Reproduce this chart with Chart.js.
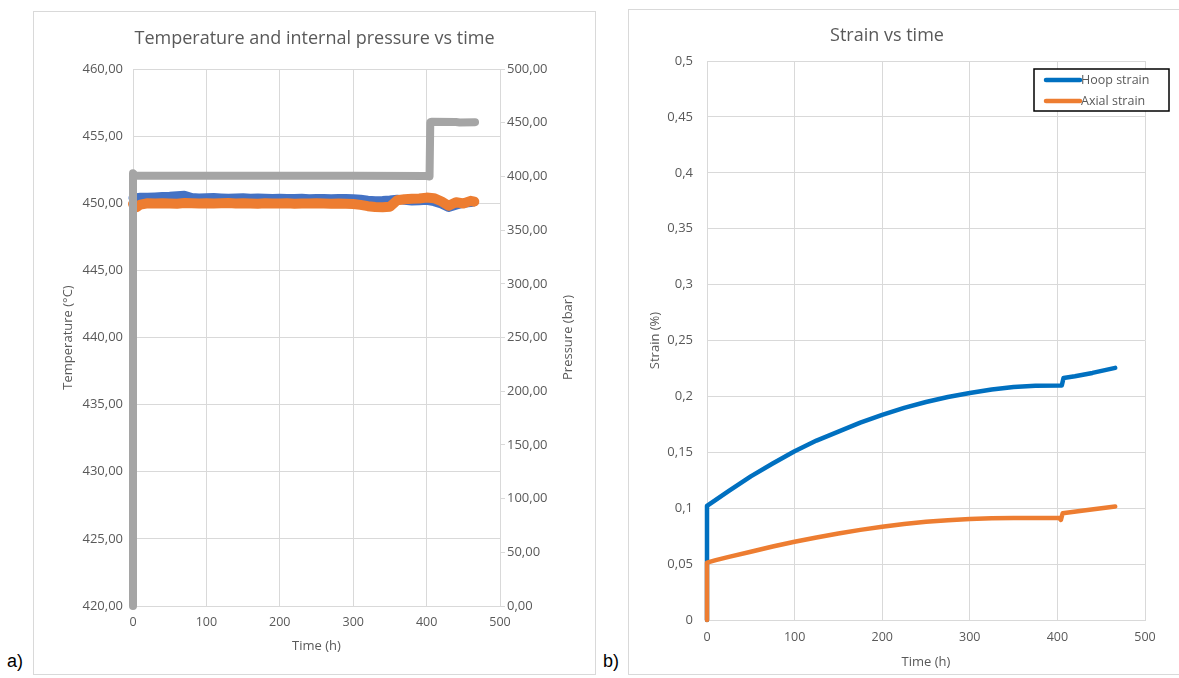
<!DOCTYPE html>
<html>
<head>
<meta charset="utf-8">
<script src="https://cdn.jsdelivr.net/npm/chart.js@4.4.1/dist/chart.umd.min.js"></script>
<style>
body { margin: 0; width: 1179px; height: 678px; overflow: hidden; background: #fff; position: relative; }
.panel { position: absolute; border: 1px solid #d9d9d9; }
#panelA { left: 33px; top: 11px; width: 561px; height: 662px; }
#panelB { left: 628px; top: 9px; width: 580px; height: 664px; }
.tag { position: absolute; font-family: "Liberation Sans", Arial, sans-serif; font-size: 18px; color: #000; }
</style>
</head>
<body>
<div class="panel" id="panelA"><canvas id="chartA" width="561" height="662"></canvas></div>
<div class="panel" id="panelB"><canvas id="chartB" width="580" height="664"></canvas></div>
<div class="tag" style="left:7px; top:651px;">a)</div>
<div class="tag" style="left:603px; top:651px;">b)</div>
<script>
// chart a) temperature and pressure
const tempTime = [0, 5, 10, 20, 30, 40, 50, 60, 70, 80, 90, 100, 110, 120, 130, 140, 150, 160, 170, 180, 190, 200, 210, 220, 230, 240, 250, 260, 270, 280, 290, 300, 310, 320, 330, 340, 350, 360, 370, 380, 390, 400, 410, 420, 430, 440, 450, 460, 465];
const temp1 = [450.40, 450.42, 450.45, 450.45, 450.47, 450.50, 450.52, 450.56, 450.60, 450.42, 450.40, 450.41, 450.42, 450.40, 450.38, 450.40, 450.41, 450.38, 450.40, 450.38, 450.36, 450.38, 450.36, 450.35, 450.37, 450.34, 450.36, 450.35, 450.34, 450.36, 450.35, 450.34, 450.30, 450.22, 450.18, 450.20, 450.24, 450.30, 450.22, 450.16, 450.18, 450.22, 450.12, 449.95, 449.68, 449.85, 450.00, 450.05, 450.12];
const temp2 = [449.95, 449.72, 449.90, 450.00, 449.98, 450.00, 449.98, 449.97, 450.02, 450.00, 449.98, 450.00, 449.98, 450.00, 450.01, 449.98, 450.00, 449.99, 449.97, 450.00, 449.98, 449.99, 450.00, 449.97, 449.99, 449.98, 450.00, 449.98, 449.97, 449.99, 449.97, 449.95, 449.88, 449.78, 449.72, 449.70, 449.74, 450.22, 450.30, 450.33, 450.36, 450.42, 450.38, 450.15, 449.82, 450.08, 449.98, 450.18, 450.12];
const pressTime = [0, 0, 3, 100, 200, 300, 400, 404, 405, 407, 440, 445, 466];
const pressure = [0, 403, 400.8, 400.6, 400.6, 400.5, 400.3, 400, 450.4, 451, 450.6, 450.2, 450.5];

// chart b) strain
const hoopTime = [0, 0, 10, 25, 50, 75, 100, 125, 150, 175, 200, 225, 250, 275, 300, 325, 350, 375, 404, 405, 407, 420, 440, 466];
const hoopStrain = [0, 0.102, 0.1075, 0.1155, 0.1285, 0.140, 0.151, 0.1605, 0.1685, 0.1765, 0.1835, 0.1897, 0.195, 0.1995, 0.203, 0.2062, 0.2085, 0.2095, 0.2098, 0.2098, 0.2165, 0.218, 0.221, 0.2255];
const axialTime = [0, 0, 10, 25, 50, 75, 100, 125, 150, 175, 200, 225, 250, 275, 300, 325, 350, 375, 402, 404, 406, 430, 466];
const axialStrain = [0, 0.0513, 0.0535, 0.0565, 0.061, 0.0657, 0.070, 0.0738, 0.0773, 0.0806, 0.0834, 0.0858, 0.0878, 0.0893, 0.0904, 0.0911, 0.0913, 0.0913, 0.0912, 0.0895, 0.0955, 0.098, 0.1015];

const GREY_TEXT = '#595959';
const GRID = '#d9d9d9';
Chart.defaults.font.family = '"Open Sans", sans-serif';
Chart.defaults.color = GREY_TEXT;

const toPoints = (xs, ys) => xs.map((x, i) => ({ x: x, y: ys[i] }));
const comma2 = v => v.toFixed(2).replace('.', ',');
const commaShort = v => (Math.round(v * 100) / 100).toString().replace('.', ',');

// order: lower number is painted on top
const lineSet = (label, xs, ys, color, width, axis, order) => ({
    label: label,
    data: toPoints(xs, ys),
    borderColor: color,
    backgroundColor: color,
    borderWidth: width,
    pointRadius: 0,
    borderCapStyle: 'round',
    borderJoinStyle: 'round',
    tension: 0,
    clip: false,
    order: order,
    yAxisID: axis
});

// title of the secondary axis reads bottom to top, like the primary one
const rightTitle = {
    id: 'rightTitle',
    afterDraw(chart) {
        const { ctx, chartArea } = chart;
        ctx.save();
        ctx.translate(chart.width - 27, (chartArea.top + chartArea.bottom) / 2);
        ctx.rotate(-Math.PI / 2);
        ctx.font = '13px "Open Sans", sans-serif';
        ctx.fillStyle = GREY_TEXT;
        ctx.textAlign = 'center';
        ctx.textBaseline = 'middle';
        ctx.fillText('Pressure (bar)', 0, 0);
        ctx.restore();
    }
};

new Chart(document.getElementById('chartA'), {
    type: 'line',
    data: {
        datasets: [
            lineSet('Temperature 1', tempTime, temp1, '#4472C4', 9, 'y', 3),
            lineSet('Temperature 2', tempTime, temp2, '#ED7D31', 10, 'y', 2),
            lineSet('Pressure', pressTime, pressure, '#A5A5A5', 8, 'y1', 1)
        ]
    },
    options: {
        responsive: false,
        animation: false,
        layout: { padding: 0 },
        plugins: {
            legend: { display: false },
            tooltip: { enabled: false },
            title: {
                display: true,
                text: 'Temperature and internal pressure vs time',
                font: { size: 18, weight: 'normal' },
                color: GREY_TEXT,
                padding: { top: 16, bottom: 19.4 }
            }
        },
        scales: {
            x: {
                type: 'linear',
                min: 0, max: 500,
                ticks: { stepSize: 100, padding: 9, font: { size: 12.5 } },
                grid: { color: GRID, drawTicks: false },
                border: { color: GRID },
                title: { display: true, text: 'Time (h)', font: { size: 13 }, padding: { top: 0, bottom: 20 } },
                afterFit(s) { s.height = 68; }
            },
            y: {
                position: 'left',
                min: 420, max: 460,
                ticks: { stepSize: 5, padding: 10, font: { size: 13 }, callback: comma2 },
                grid: { color: GRID, drawTicks: false },
                border: { color: GRID },
                title: { display: true, text: 'Temperature (°C)', font: { size: 13 }, padding: { top: 26, bottom: 0 } },
                afterFit(s) { s.width = 99; }
            },
            y1: {
                position: 'right',
                min: 0, max: 500,
                ticks: { stepSize: 50, padding: 2, font: { size: 13 }, callback: comma2 },
                grid: { color: GRID, drawOnChartArea: false, drawTicks: true, tickLength: 5 },
                border: { color: GRID },
                afterFit(s) { s.width = 95; }
            }
        }
    },
    plugins: [rightTitle]
});

// boxed legend in the top right corner of the plot
const boxLegend = {
    id: 'boxLegend',
    afterDraw(chart) {
        const { ctx } = chart;
        const x = 405, y = 59, w = 135, h = 42;
        ctx.save();
        ctx.fillStyle = '#fff';
        ctx.fillRect(x, y, w, h);
        ctx.strokeStyle = '#000';
        ctx.lineWidth = 1.5;
        ctx.strokeRect(x, y, w, h);
        ctx.font = '12.5px "Open Sans", sans-serif';
        ctx.textBaseline = 'middle';
        chart.data.datasets.forEach((ds, i) => {
            const ly = y + 11 + i * 21;
            ctx.strokeStyle = ds.borderColor;
            ctx.lineWidth = 4.5;
            ctx.lineCap = 'round';
            ctx.beginPath();
            ctx.moveTo(x + 12, ly);
            ctx.lineTo(x + 46, ly);
            ctx.stroke();
            ctx.fillStyle = GREY_TEXT;
            ctx.fillText(ds.label, x + 47, ly);
        });
        ctx.restore();
    }
};

new Chart(document.getElementById('chartB'), {
    type: 'line',
    data: {
        datasets: [
            lineSet('Hoop strain', hoopTime, hoopStrain, '#0070C0', 4.5, 'y', 2),
            lineSet('Axial strain', axialTime, axialStrain, '#ED7D31', 4.5, 'y', 1)
        ]
    },
    options: {
        responsive: false,
        animation: false,
        layout: { padding: { left: 0, top: 0, bottom: 0, right: 64 } },
        plugins: {
            legend: { display: false },
            tooltip: { enabled: false },
            title: {
                display: true,
                text: 'Strain vs time',
                font: { size: 18, weight: 'normal' },
                color: GREY_TEXT,
                padding: { top: 15, bottom: 14.4 }
            }
        },
        scales: {
            x: {
                type: 'linear',
                min: 0, max: 500,
                ticks: { stepSize: 100, padding: 10, font: { size: 12.5 } },
                grid: { color: GRID, drawTicks: false },
                border: { color: GRID },
                title: { display: true, text: 'Time (h)', font: { size: 13 }, padding: { top: 0, bottom: 4 } },
                afterFit(s) { s.height = 54; }
            },
            y: {
                min: 0, max: 0.5,
                ticks: { stepSize: 0.05, padding: 14, font: { size: 13 }, callback: commaShort },
                grid: { color: GRID, drawTicks: false },
                border: { color: GRID },
                title: { display: true, text: 'Strain (%)', font: { size: 13 }, padding: { top: 18, bottom: 0 } },
                afterFit(s) { s.width = 78; }
            }
        }
    },
    plugins: [boxLegend]
});
</script>
</body>
</html>
